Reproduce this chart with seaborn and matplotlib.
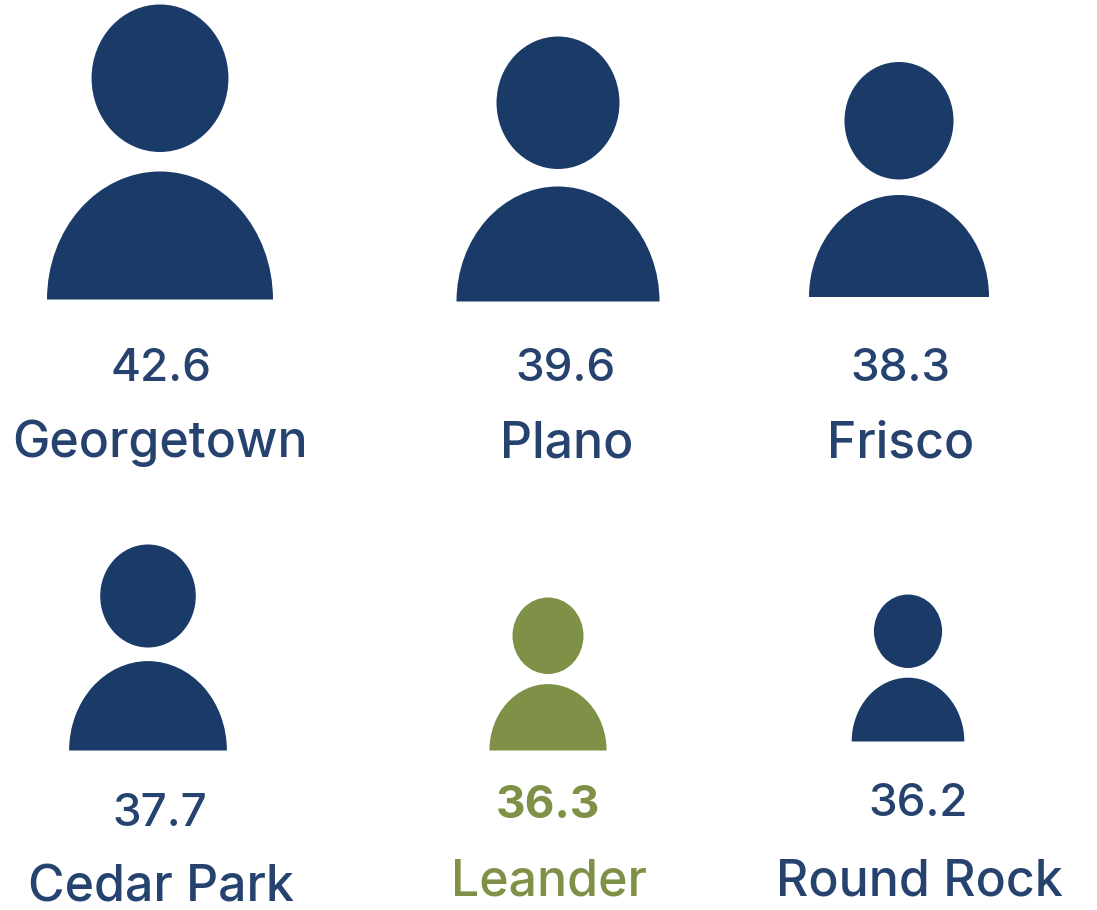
import matplotlib
matplotlib.use("Agg")
import matplotlib.pyplot as plt
from matplotlib.path import Path
from matplotlib.transforms import Affine2D
import pandas as pd
import seaborn as sns

# data
cities = ["Georgetown", "Plano", "Frisco", "Cedar Park", "Leander", "Round Rock"]
median_age = [42.6, 39.6, 38.3, 37.7, 36.3, 36.2]
value_labels = ["42.6", "39.6", "38.3", "37.7", "36.3", "36.2"]

# layout (pixels in the 1097x910 canvas)
icon_x = [160, 558, 899, 148, 548, 908]
icon_y = [152, 169, 179.5, 647.5, 674, 668]
icon_height = [295, 265, 235, 206, 153, 147]
value_x = [161, 566, 900, 160, 548, 918]
value_y = [369, 369, 369, 814, 806, 804]
name_x = [160, 567, 901, 161, 549, 919]
name_y = [443, 444, 444, 888, 882, 882]

NAVY = "#1a3a68"
TEXT = "#26426e"
GREEN = "#7f9146"
HIGHLIGHT = "Leander"

sns.set_theme(style="white")
plt.rcParams["font.family"] = ["Inter", "DejaVu Sans"]

# person icon, spanning y -1..1
head = Path.unit_circle().transformed(Affine2D().scale(0.464, 0.5).translate(0, 0.5))
arc = Path.arc(0, 180)
body = Path(list(arc.vertices) + [arc.vertices[0]], list(arc.codes) + [Path.CLOSEPOLY])
body = body.transformed(Affine2D().scale(0.766, 0.868).translate(0, -1))
person = Path.make_compound_path(head, body)

fig = plt.figure(figsize=(10.97, 9.10), dpi=100)
ax = fig.add_axes([0, 0, 1, 1])

df = pd.DataFrame({"city": cities, "age": median_age, "x": icon_x, "y": icon_y})
palette = {c: (GREEN if c == HIGHLIGHT else NAVY) for c in cities}
sizes = {c: (h * 72 / 100) ** 2 for c, h in zip(cities, icon_height)}
sns.scatterplot(data=df, x="x", y="y", hue="city", palette=palette, size="city",
                sizes=sizes, marker=person, linewidth=0, legend=False, ax=ax)

ax.set_xlim(0, 1097)
ax.set_ylim(910, 0)
ax.set_axis_off()

for c, lab, vx, vy, nx, ny in zip(cities, value_labels, value_x, value_y, name_x, name_y):
    hi = c == HIGHLIGHT
    col = GREEN if hi else TEXT
    ax.text(vx, vy, lab, color=col, fontsize=33, ha="center", va="center",
            fontweight="bold" if hi else "medium")
    ax.text(nx, ny, c, color=col, fontsize=36, ha="center", va="center", fontweight="medium")

fig.savefig("out.png", dpi=100, facecolor="white")
